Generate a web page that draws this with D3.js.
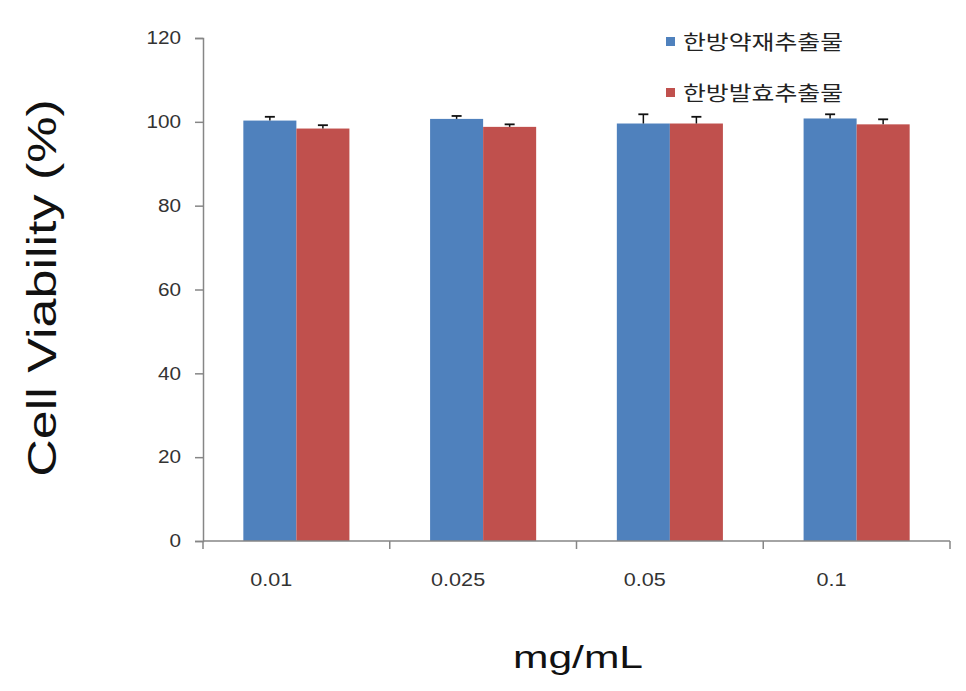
<!DOCTYPE html>
<html>
<head>
<meta charset="utf-8">
<script src="https://cdn.jsdelivr.net/npm/d3@7"></script>
<style>
  html, body { margin: 0; padding: 0; background: #ffffff; }
  svg { display: block; }
</style>
</head>
<body>
<svg id="chart" width="966" height="691"></svg>
<script>
// ---- data ----
const categories = ["0.01", "0.025", "0.05", "0.1"];
const seriesNames = ["한방약재추출물", "한방발효추출물"];
const herbalExtract = [100.3, 100.7, 99.6, 100.8];
const herbalExtractErr = [0.9, 0.7, 2.2, 1.0];
const fermentedExtract = [98.4, 98.8, 99.6, 99.4];
const fermentedExtractErr = [0.8, 0.6, 1.6, 1.2];
const yTicks = [0, 20, 40, 60, 80, 100, 120];
const colors = ["#4F81BD", "#C0504D"];

const series = [
  { name: seriesNames[0], values: herbalExtract, errs: herbalExtractErr, color: colors[0] },
  { name: seriesNames[1], values: fermentedExtract, errs: fermentedExtractErr, color: colors[1] }
];

const svg = d3.select("#chart");
const plotLeft = 203, plotRight = 950, plotTop = 38, plotBottom = 541;
const axisColor = "#868686";
const latin = "'Liberation Sans', Arial, sans-serif";

function stretch(sel, f) {
  sel.each(function () {
    const L = this.getComputedTextLength();
    d3.select(this).attr("textLength", L * f).attr("lengthAdjust", "spacingAndGlyphs");
  });
}

const y = d3.scaleLinear().domain([0, 120]).range([plotBottom, plotTop]);
const x0 = d3.scaleBand().domain(categories).range([plotLeft, plotRight])
  .paddingInner(0.432).paddingOuter(0.216);
const x1 = d3.scaleBand().domain(seriesNames).range([0, x0.bandwidth()]);

// bars
const groups = svg.append("g").selectAll("g")
  .data(categories).join("g")
  .attr("transform", d => `translate(${x0(d)},0)`);

groups.selectAll("rect")
  .data((d, i) => series.map(s => ({ s, v: s.values[i], e: s.errs[i] })))
  .join("rect")
  .attr("x", d => x1(d.s.name))
  .attr("width", x1.bandwidth())
  .attr("y", d => y(d.v))
  .attr("height", d => y(0) - y(d.v))
  .attr("fill", d => d.s.color);

// error bars (plus only)
const eb = groups.selectAll("g.err")
  .data((d, i) => series.map(s => ({ s, v: s.values[i], e: s.errs[i] })))
  .join("g").attr("class", "err");
eb.append("line")
  .attr("x1", d => x1(d.s.name) + x1.bandwidth() / 2)
  .attr("x2", d => x1(d.s.name) + x1.bandwidth() / 2)
  .attr("y1", d => y(d.v))
  .attr("y2", d => y(d.v + d.e))
  .attr("stroke", "#111").attr("stroke-width", 1.5);
eb.append("line")
  .attr("x1", d => x1(d.s.name) + x1.bandwidth() / 2 - 5)
  .attr("x2", d => x1(d.s.name) + x1.bandwidth() / 2 + 5)
  .attr("y1", d => y(d.v + d.e))
  .attr("y2", d => y(d.v + d.e))
  .attr("stroke", "#111").attr("stroke-width", 1.8);

// y axis
const yAxis = svg.append("g")
  .attr("transform", `translate(${plotLeft},0)`)
  .call(d3.axisLeft(y).tickValues(yTicks).tickSize(8).tickPadding(14));
yAxis.select(".domain").attr("stroke", axisColor).attr("stroke-width", 1.5);
yAxis.selectAll(".tick line").attr("stroke", axisColor).attr("stroke-width", 1.5);
yAxis.selectAll(".tick text")
  .attr("fill", "#333").attr("font-family", latin).attr("font-size", 18)
  .call(stretch, 1.15);

// x axis line with ticks at band boundaries
svg.append("line")
  .attr("x1", plotLeft).attr("x2", plotRight).attr("y1", plotBottom).attr("y2", plotBottom)
  .attr("stroke", axisColor).attr("stroke-width", 1.5);
const boundaries = categories.map(c => x0(c) - x0.step() * x0.paddingInner() / 2)
  .concat([plotRight]);
svg.append("g").selectAll("line")
  .data(boundaries).join("line")
  .attr("x1", d => d).attr("x2", d => d)
  .attr("y1", plotBottom).attr("y2", plotBottom + 8)
  .attr("stroke", axisColor).attr("stroke-width", 1.5);

svg.append("g").selectAll("text")
  .data(categories).join("text")
  .attr("x", d => x0(d) + x0.bandwidth() / 2 - 25)
  .attr("y", 586)
  .attr("text-anchor", "middle")
  .attr("fill", "#333").attr("font-family", latin).attr("font-size", 18)
  .text(d => d)
  .call(stretch, 1.2);

// axis titles
svg.append("text")
  .attr("x", 578).attr("y", 668)
  .attr("text-anchor", "middle")
  .attr("fill", "#111").attr("font-family", latin).attr("font-size", 32)
  .text("mg/mL")
  .call(stretch, 1.33);

svg.append("text")
  .attr("transform", "translate(56,288) rotate(-90)")
  .attr("text-anchor", "middle")
  .attr("fill", "#111").attr("font-family", latin).attr("font-size", 40)
  .text("Cell Viability (%)")
  .call(stretch, 1.3);

// legend
const legend = svg.append("g").selectAll("g")
  .data(series).join("g")
  .attr("transform", (d, i) => `translate(666,${43 + i * 51})`);
legend.append("rect")
  .attr("x", 0).attr("y", -6).attr("width", 9).attr("height", 9)
  .attr("fill", d => d.color);
legend.append("text")
  .attr("x", 17).attr("y", 0).attr("dy", "0.35em")
  .attr("fill", "#222").attr("font-family", "'Noto Sans CJK KR', sans-serif").attr("font-size", 20)
  .text(d => d.name)
  .each(function () {
    d3.select(this).attr("textLength", 160).attr("lengthAdjust", "spacingAndGlyphs");
  });
</script>
</body>
</html>
